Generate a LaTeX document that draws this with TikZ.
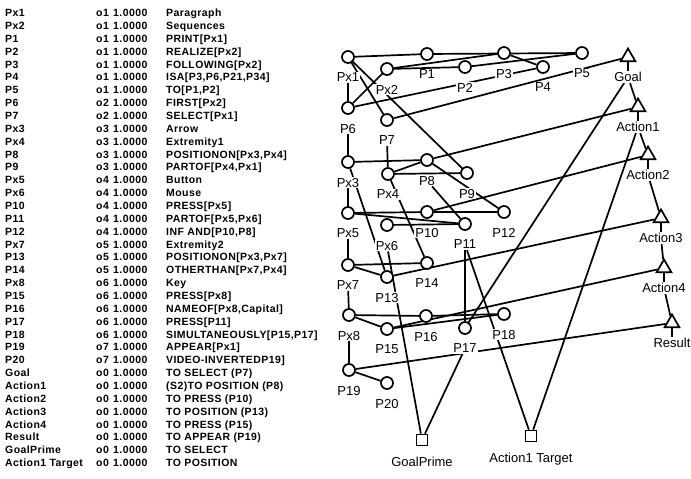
\documentclass[tikz,border=0pt]{standalone}
\usepackage{fontspec}
\setmainfont{Liberation Sans}
\newfontfamily\tablefont[LetterSpace=4]{Liberation Sans}
\usetikzlibrary{positioning,shapes.geometric,backgrounds}

\tikzset{
  prop/.style={circle,draw,line width=1.7pt,fill=white,minimum size=12pt,inner sep=0pt},
  goal/.style={regular polygon,regular polygon sides=3,draw,line width=1.7pt,fill=white,minimum size=17pt,inner sep=0pt},
  target/.style={rectangle,draw,line width=1.7pt,fill=white,minimum size=11pt,inner sep=0pt},
  lab/.style={font=\fontsize{13}{13}\selectfont,fill=white,inner sep=1pt},
  row/.style={font=\tablefont\bfseries\fontsize{10.5}{10.5}\selectfont,inner sep=0pt,anchor=base west},
  every on background layer/.style={line width=1.7pt},
}

\begin{document}
\begin{tikzpicture}[x=1pt,y=-1pt]
  \useasboundingbox (0,0) rectangle (691,479);

  % proposition table
  \foreach \nm/\cd/\ds [count=\i from 0] in {Px1/o1/Paragraph, Px2/o1/Sequences,
      P1/o1/{PRINT[Px1]}, P2/o1/{REALIZE[Px2]}, P3/o1/{FOLLOWING[Px2]},
      P4/o1/{ISA[P3,P6,P21,P34]}, P5/o1/{TO[P1,P2]}, P6/o2/{FIRST[Px2]},
      P7/o2/{SELECT[Px1]}, Px3/o3/Arrow, Px4/o3/Extremity1,
      P8/o3/{POSITIONON[Px3,Px4]}, P9/o3/{PARTOF[Px4,Px1]}, Px5/o4/Button,
      Px6/o4/Mouse, P10/o4/{PRESS[Px5]}, P11/o4/{PARTOF[Px5,Px6]},
      P12/o4/{INF AND[P10,P8]}, Px7/o5/Extremity2, P13/o5/{POSITIONON[Px3,Px7]},
      P14/o5/{OTHERTHAN[Px7,Px4]}, Px8/o6/Key, P15/o6/{PRESS[Px8]},
      P16/o6/{NAMEOF[Px8,Capital]}, P17/o6/{PRESS[P11]},
      P18/o6/{SIMULTANEOUSLY[P15,P17]}, P19/o7/{APPEAR[Px1]},
      P20/o7/{VIDEO-INVERTEDP19]}, Goal/o0/{TO SELECT (P7)},
      Action1/o0/{(S2)TO POSITION (P8)}, Action2/o0/{TO PRESS (P10)},
      Action3/o0/{TO POSITION (P13)}, Action4/o0/{TO PRESS (P15)},
      Result/o0/{TO APPEAR (P19)}, GoalPrime/o0/{TO SELECT},
      Action1 Target/o0/{TO POSITION}}{
    \node[row] (n\i) at (5,{16.6+12.86*\i}) {\nm};
    \node[row] (c\i) at (96,{16.6+12.86*\i}) {\cd};
    \node[row] (v\i) at (113,{16.6+12.86*\i}) {1.0000};
    \node[row] (d\i) at (166,{16.6+12.86*\i}) {\ds};
  }

  % network
  \foreach \nm/\x/\y in {Px1/348/57, Px2/387/69, P1/427/54, P2/465/67, P3/504/53,
      P4/543/67, P5/582/53, P6/348/108, P7/387/120, Px3/348/162, Px4/388/174,
      P8/427/160, P9/467/173, Px5/348/213, Px6/387/225, P10/427/212, P11/465/224,
      P12/504/212, Px7/348/265, P13/387/277, P14/427/263, Px8/349/315, P15/387/329,
      P16/426/316, P17/465/328, P18/504/314, P19/349/370, P20/387/383}{
    \node[prop] (\nm) at (\x,\y) {};
    \node[lab,below=8pt of \nm] (l\nm) {\nm};
  }
  \foreach \nm/\x/\y in {Goal/628/57, Action1/638/107, Action2/648/155,
      Action3/661/218, Action4/664/268, Result/672/323}{
    \node[goal] (\nm) at (\x,\y) {};
    \node[lab,below=9pt of \nm] (l\nm) {\nm};
  }
  \node[target] (GoalPrime) at (422,440) {};
  \node[lab,below=10pt of GoalPrime] (lGoalPrime) {GoalPrime};
  \node[target] (At) at (531,436) {};
  \node[lab,below=10pt of At] (lAt) {Action1 Target};

  \begin{scope}[on background layer]
    \draw (Px1) -- (P1) -- (P5);
    \draw (Px2) -- (P2) -- (P5);
    \draw (Px2) -- (P3) -- (P4);
    \draw (P6) -- (P4);
    \draw (P6) -- (Px2);
    \draw (Px1) -- (P7);
    \draw (Px1) -- (P9);
    \draw (P7) -- (Goal);
    \draw (lP7) -- (Px4);
    \draw (Px3) -- (P8) -- (Action1);
    \draw (Px4) -- (P8) -- (P12);
    \draw (Px4) -- (P9);
    \draw (lP8) -- (P11);
    \draw (Px5) -- (P10) -- (P12);
    \draw (Px5) -- (P11);
    \draw (Px6) -- (P11);
    \draw (P10) -- (Action2);
    \draw (Px4) -- (P14);
    \draw (Px3) -- (P13);
    \draw (Px7) -- (P14);
    \draw (Px7) -- (P13) -- (Action3);
    \draw (Px8) -- (P16) -- (P18);
    \draw (Px8) -- (P15) -- (P18);
    \draw (P15) -- (Action4);
    \draw (lP11) -- (P17);
    \draw (lGoal) -- (P17);
    \draw (GoalPrime) -- (lP17);
    \draw (GoalPrime) -- (lPx6);
    \draw (At) -- (lP11);
    \draw (At) -- (lAction1);
    \draw (P19) -- (P20);
    \draw (P19) -- (Result);
    % left spine
    \draw (lPx1) -- (P6);
    \draw (lP6) -- (Px3);
    \draw (lPx3) -- (Px5);
    \draw (lPx5) -- (Px7);
    \draw (lPx7) -- (Px8);
    \draw (lPx8) -- (P19);
    % goal chain
    \draw (Goal) -- (lGoal) -- (Action1) -- (lAction1) -- (Action2) -- (lAction2)
      -- (Action3) -- (lAction3) -- (Action4) -- (lAction4) -- (Result) -- (lResult);
  \end{scope}
\end{tikzpicture}
\end{document}
